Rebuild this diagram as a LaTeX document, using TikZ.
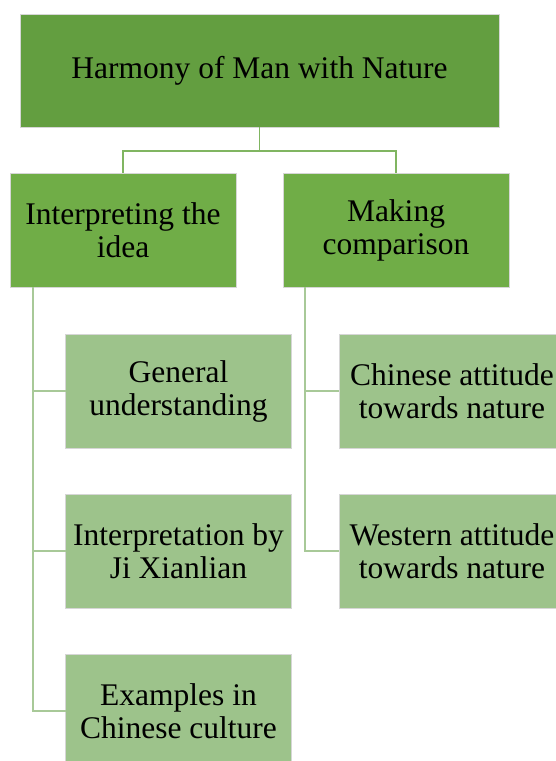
\documentclass[tikz,border=0pt]{standalone}
\usepackage{fontspec}
\setmainfont{Liberation Serif}
\definecolor{rootgreen}{RGB}{99,158,64}
\definecolor{midgreen}{RGB}{112,173,71}
\definecolor{leafgreen}{RGB}{157,195,139}
\definecolor{upperline}{RGB}{128,181,97}
\definecolor{lowerline}{RGB}{168,201,152}
\definecolor{edgegray}{RGB}{214,214,214}
\tikzset{
  box/.style={draw=edgegray, line width=0.9pt, inner sep=0pt, outer sep=0pt,
    align=center, text=black, font=\fontsize{31.5}{33}\selectfont},
  rootbox/.style={box, fill=rootgreen, minimum width=479, minimum height=113},
  midbox/.style={box, fill=midgreen, minimum width=226, minimum height=114},
  leafbox/.style={box, fill=leafgreen, minimum width=226, minimum height=114},
  upconn/.style={draw=upperline, line width=1.6pt},
  lowconn/.style={draw=lowerline, line width=1.6pt},
}
\begin{document}
\begin{tikzpicture}[x=1pt, y=-1pt]
  \useasboundingbox (0,0) rectangle (556,761);
  \clip (0,0) rectangle (556,761);

  % root
  \node[rootbox] (root) at (259.5,70.5) {Harmony of Man with Nature};

  % first level
  \node[midbox] (interp) at (123,230) {Interpreting the\\idea};
  \node[midbox] (compare) at (396,230) {Making\\comparison};

  % second level, left branch
  \node[leafbox] (general) at (178.5,391) {General\\understanding};
  \node[leafbox] (jixl) at (178.5,551) {Interpretation by\\Ji Xianlian};
  \node[leafbox] (examples) at (178.5,711) {Examples in\\Chinese culture};

  % second level, right branch
  \node[leafbox] (chinese) at (452,391) {Chinese attitude\\towards nature};
  \node[leafbox] (western) at (452,551) {Western attitude\\towards nature};

  % root to first level
  \coordinate (bus) at (259.5,151);
  \draw[upconn] (root.south) -- (bus);
  \draw[upconn] (bus) -| (interp.north);
  \draw[upconn] (bus) -| (compare.north);

  % first level to second level
  \coordinate (lspine) at ([xshift=23pt]interp.south west);
  \coordinate (rspine) at ([xshift=22pt]compare.south west);
  \draw[lowconn] (lspine) |- (general.west);
  \draw[lowconn] (lspine) |- (jixl.west);
  \draw[lowconn] (lspine) |- (examples.west);
  \draw[lowconn] (rspine) |- (chinese.west);
  \draw[lowconn] (rspine) |- (western.west);
\end{tikzpicture}
\end{document}
